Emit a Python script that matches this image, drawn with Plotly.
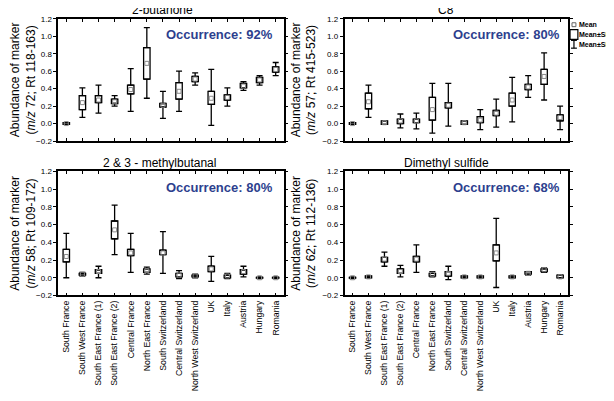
import plotly.graph_objects as go

categories = ["South France", "South West France", "South East France (1)", "South East France (2)",
              "Central France", "North East France", "South Switzerland", "Central Switzerland",
              "North West Switzerland", "UK", "Italy", "Austria", "Hungary", "Romania"]

# 2-butanone
but_mean  = [0.00, 0.24, 0.27, 0.25, 0.39, 0.69, 0.21, 0.37, 0.51, 0.29, 0.30, 0.43, 0.50, 0.62]
but_se_lo = [-0.01, 0.16, 0.24, 0.23, 0.34, 0.51, 0.19, 0.28, 0.48, 0.22, 0.27, 0.41, 0.47, 0.59]
but_se_hi = [0.01, 0.32, 0.32, 0.28, 0.44, 0.87, 0.23, 0.47, 0.54, 0.37, 0.33, 0.46, 0.53, 0.65]
but_sd_lo = [-0.01, 0.07, 0.12, 0.20, 0.14, 0.29, 0.06, 0.14, 0.44, -0.02, 0.20, 0.38, 0.44, 0.55]
but_sd_hi = [0.01, 0.41, 0.44, 0.32, 0.63, 1.10, 0.37, 0.60, 0.58, 0.62, 0.41, 0.48, 0.55, 0.70]

# C8
c8_mean  = [0.00, 0.25, 0.01, 0.03, 0.03, 0.16, 0.21, 0.01, 0.04, 0.12, 0.27, 0.42, 0.54, 0.07]
c8_se_lo = [-0.01, 0.17, -0.01, 0.00, 0.01, 0.04, 0.18, -0.01, 0.01, 0.09, 0.20, 0.39, 0.45, 0.03]
c8_se_hi = [0.01, 0.35, 0.03, 0.05, 0.05, 0.30, 0.24, 0.03, 0.08, 0.15, 0.35, 0.45, 0.62, 0.10]
c8_sd_lo = [-0.01, 0.07, -0.01, -0.05, -0.06, -0.11, -0.03, -0.01, -0.07, -0.04, 0.02, 0.30, 0.27, -0.07]
c8_sd_hi = [0.01, 0.44, 0.03, 0.11, 0.12, 0.46, 0.46, 0.03, 0.16, 0.28, 0.53, 0.55, 0.81, 0.20]

# 2 & 3 - methylbutanal
mb_mean  = [0.24, 0.04, 0.07, 0.54, 0.28, 0.08, 0.28, 0.03, 0.02, 0.10, 0.02, 0.07, 0.00, 0.00]
mb_se_lo = [0.18, 0.03, 0.05, 0.44, 0.25, 0.06, 0.26, 0.01, 0.01, 0.07, 0.00, 0.04, -0.005, -0.005]
mb_se_hi = [0.32, 0.05, 0.09, 0.64, 0.32, 0.10, 0.31, 0.05, 0.03, 0.13, 0.03, 0.09, 0.005, 0.005]
mb_sd_lo = [0.00, 0.02, 0.00, 0.26, 0.06, 0.04, 0.05, -0.01, 0.00, -0.04, -0.01, 0.01, -0.01, -0.01]
mb_sd_hi = [0.50, 0.06, 0.13, 0.82, 0.50, 0.12, 0.52, 0.08, 0.04, 0.24, 0.05, 0.13, 0.01, 0.01]

# Dimethyl sulfide
dms_mean  = [0.00, 0.01, 0.21, 0.07, 0.21, 0.04, 0.05, 0.01, 0.01, 0.28, 0.01, 0.05, 0.09, 0.01]
dms_se_lo = [-0.005, 0.00, 0.18, 0.05, 0.18, 0.02, 0.02, 0.00, 0.00, 0.19, 0.00, 0.04, 0.07, 0.00]
dms_se_hi = [0.005, 0.02, 0.23, 0.10, 0.24, 0.05, 0.07, 0.02, 0.02, 0.37, 0.02, 0.07, 0.10, 0.03]
dms_sd_lo = [-0.01, 0.00, 0.13, 0.01, 0.06, 0.01, -0.02, 0.00, 0.00, -0.11, 0.00, 0.03, 0.06, 0.00]
dms_sd_hi = [0.01, 0.02, 0.29, 0.14, 0.37, 0.07, 0.13, 0.02, 0.02, 0.67, 0.02, 0.07, 0.11, 0.03]

panels = [
    dict(title="2-butanone", ytitle="Abundance of marker<br>(<i>m/z</i> 72; Rt 118-163)", occ="Occurrence: 92%",
         mean=but_mean, se_lo=but_se_lo, se_hi=but_se_hi, sd_lo=but_sd_lo, sd_hi=but_sd_hi),
    dict(title="C8", ytitle="Abundance of marker<br>(<i>m/z</i> 57; Rt 415-523)", occ="Occurrence: 80%",
         mean=c8_mean, se_lo=c8_se_lo, se_hi=c8_se_hi, sd_lo=c8_sd_lo, sd_hi=c8_sd_hi),
    dict(title="2 & 3 - methylbutanal", ytitle="Abundance of marker<br>(<i>m/z</i> 58; Rt 109-172)", occ="Occurrence: 80%",
         mean=mb_mean, se_lo=mb_se_lo, se_hi=mb_se_hi, sd_lo=mb_sd_lo, sd_hi=mb_sd_hi),
    dict(title="Dimethyl sulfide", ytitle="Abundance of marker<br>(<i>m/z</i> 62; Rt 112-136)", occ="Occurrence: 68%",
         mean=dms_mean, se_lo=dms_se_lo, se_hi=dms_se_hi, sd_lo=dms_sd_lo, sd_hi=dms_sd_hi),
]

legend_labels = ["Mean", "Mean±SE", "Mean±SD"]

W, H = 614, 401
OFF = 8  # the page body margin shifts the figure by 8 px; compensate
def px(x): return (x - OFF) / W
def py(y): return 1 - (y - OFF) / H

xdoms = [(px(47), px(277)), (px(339), px(567))]
ydoms = [(py(140), py(15)), (py(298), py(171))]
title_pos = [(153, 6), (443, 6), (150, 162), (443, 162)]
occ_pos = [(268, 31), (561, 31), (268, 188), (561, 188)]

FONT = "Liberation Sans, Arial, sans-serif"
OCC_COL = "#2d3f8e"

fig = go.Figure()
layout = dict(width=W, height=H, margin=dict(l=0, r=0, t=0, b=0),
              plot_bgcolor="white", paper_bgcolor="white", showlegend=False,
              barmode="overlay", font=dict(family=FONT, color="black"))
annotations = []
shapes = []

for i, p in enumerate(panels):
    n = i + 1
    xa = "x" if n == 1 else f"x{n}"
    ya = "y" if n == 1 else f"y{n}"
    col, row = i % 2, i // 2
    heights = [h - l for h, l in zip(p["se_hi"], p["se_lo"])]
    # SE box
    fig.add_trace(go.Bar(x=categories, y=heights, base=p["se_lo"], width=0.4,
                         marker=dict(color="white", line=dict(color="black", width=1.3)),
                         xaxis=xa, yaxis=ya, hoverinfo="skip"))
    # upper SD whisker
    fig.add_trace(go.Scatter(x=categories, y=p["se_hi"], mode="markers",
                             marker=dict(size=1, color="rgba(0,0,0,0)"),
                             error_y=dict(type="data", symmetric=False,
                                          array=[max(a - b, 0) for a, b in zip(p["sd_hi"], p["se_hi"])],
                                          arrayminus=[0] * len(categories),
                                          color="black", thickness=1.3, width=3),
                             xaxis=xa, yaxis=ya, hoverinfo="skip"))
    # lower SD whisker
    fig.add_trace(go.Scatter(x=categories, y=p["se_lo"], mode="markers",
                             marker=dict(size=1, color="rgba(0,0,0,0)"),
                             error_y=dict(type="data", symmetric=False,
                                          array=[0] * len(categories),
                                          arrayminus=[max(b - a, 0) for a, b in zip(p["sd_lo"], p["se_lo"])],
                                          color="black", thickness=1.3, width=3),
                             xaxis=xa, yaxis=ya, hoverinfo="skip"))
    # mean
    fig.add_trace(go.Scatter(x=categories, y=p["mean"], mode="markers",
                             marker=dict(symbol="square-open", size=4, color="#8a8a8a",
                                         line=dict(width=1, color="#8a8a8a")),
                             xaxis=xa, yaxis=ya))

    xkey = "xaxis" if n == 1 else f"xaxis{n}"
    ykey = "yaxis" if n == 1 else f"yaxis{n}"
    layout[xkey] = dict(domain=list(xdoms[col]), anchor=ya, type="category",
                        categoryorder="array", categoryarray=categories,
                        range=[-0.5, 13.5], showline=True, linecolor="black", linewidth=1.5,
                        mirror="ticks", ticks="inside", ticklen=3, tickcolor="black",
                        showgrid=False, zeroline=False,
                        showticklabels=(row == 1), tickangle=-90,
                        tickfont=dict(size=8.7, family=FONT, color="black"))
    layout[ykey] = dict(domain=list(ydoms[row]), anchor=xa, range=[-0.2, 1.2],
                        tickvals=[-0.2, 0, 0.2, 0.4, 0.6, 0.8, 1.0, 1.2], tickformat=".1f",
                        showline=True, linecolor="black", linewidth=1.5, mirror="ticks",
                        ticks="outside", ticklen=3, tickcolor="black",
                        showgrid=False, zeroline=False,
                        tickfont=dict(size=8, family=FONT, color="black"),
                        title=dict(text=p["ytitle"], font=dict(size=12, family=FONT, color="black"),
                                   standoff=4))
    tx, ty = title_pos[i]
    annotations.append(dict(x=px(tx), y=py(ty), xref="paper", yref="paper", text=p["title"],
                            showarrow=False, xanchor="center", yanchor="middle", borderpad=0,
                            font=dict(size=12, family=FONT, color="black")))
    ox, oy = occ_pos[i]
    annotations.append(dict(x=px(ox), y=py(oy), xref="paper", yref="paper", text="<b>" + p["occ"] + "</b>",
                            showarrow=False, xanchor="right", yanchor="middle",
                            font=dict(size=13, family=FONT, color=OCC_COL)))

# legend (top-right)
for txt, y in zip(legend_labels, [21, 31, 41]):
    annotations.append(dict(x=px(577), y=py(y), xref="paper", yref="paper", text="<b>" + txt + "</b>",
                            showarrow=False, xanchor="left", yanchor="middle", align="left",
                            borderpad=0, font=dict(size=7, family=FONT, color="black")))
# legend icons
shapes.append(dict(type="rect", xref="paper", yref="paper", x0=px(571), x1=px(575), y0=py(23), y1=py(19),
                   line=dict(color="#666", width=1), fillcolor="white"))
shapes.append(dict(type="rect", xref="paper", yref="paper", x0=px(569), x1=px(577), y0=py(36), y1=py(26),
                   line=dict(color="black", width=1.2), fillcolor="white"))
shapes.append(dict(type="line", xref="paper", yref="paper", x0=px(573), x1=px(573), y0=py(45), y1=py(37),
                   line=dict(color="black", width=1.2)))
shapes.append(dict(type="line", xref="paper", yref="paper", x0=px(570), x1=px(576), y0=py(37), y1=py(37),
                   line=dict(color="black", width=1.2)))
shapes.append(dict(type="line", xref="paper", yref="paper", x0=px(570), x1=px(576), y0=py(45), y1=py(45),
                   line=dict(color="black", width=1.2)))

layout["annotations"] = annotations
layout["shapes"] = shapes
fig.update_layout(**layout)
fig.write_html("out.html")
